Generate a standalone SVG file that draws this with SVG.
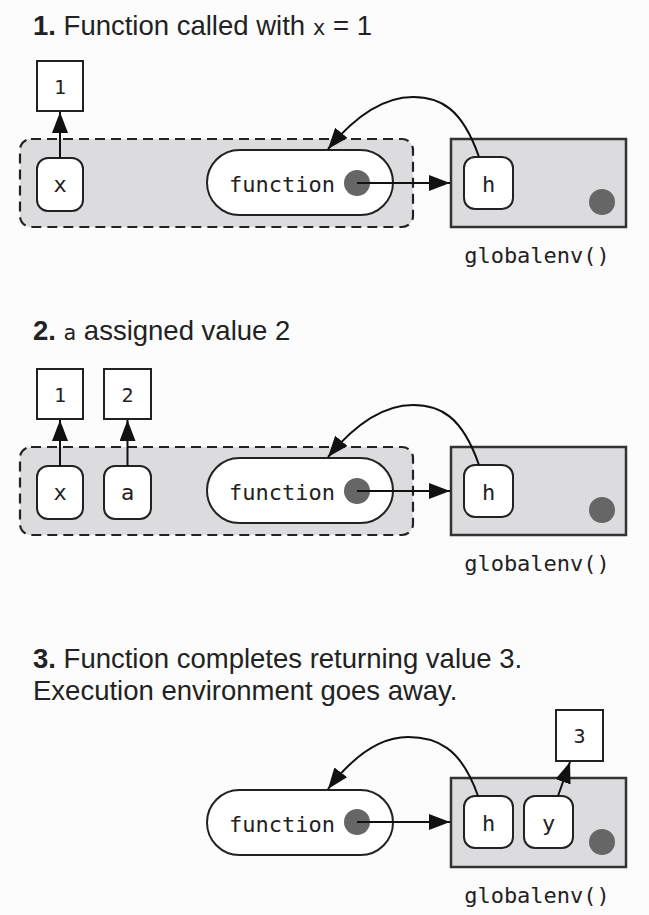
<svg xmlns="http://www.w3.org/2000/svg" width="649" height="915" viewBox="0 0 649 915">
<style>
.title{font-family:"Liberation Sans",Arial,sans-serif;font-size:27.5px;fill:#222}
.b{font-weight:bold}
.tm{font-family:"DejaVu Sans Mono",monospace;font-size:21px}
.lbl{font-family:"DejaVu Sans Mono",monospace;font-size:22px;fill:#222;text-anchor:middle}
.dig{font-family:"DejaVu Sans Mono",monospace;font-size:20px;fill:#222;text-anchor:middle}
.val{fill:#fff;stroke:#222;stroke-width:2}
.var{fill:#fff;stroke:#222;stroke-width:2}
.env{fill:#dcdcde;stroke:#222;stroke-width:2.2;stroke-dasharray:10 6}
.genv{fill:#dcdcde;stroke:#333;stroke-width:2.5}
.dot{fill:#666}
.ln{fill:none;stroke:#111;stroke-width:2;marker-end:url(#ah)}
</style>
<defs>
<marker id="ah" markerUnits="userSpaceOnUse" markerWidth="21" markerHeight="16" refX="21" refY="8" orient="auto" viewBox="0 0 21 16">
<path d="M0,0 L21,8 L0,16 z" fill="#111"/>
</marker>
</defs>
<rect width="649" height="915" fill="#fcfcfc"/>

<!-- Panel 1 -->
<text class="title" x="33" y="35"><tspan class="b">1.</tspan> Function called with <tspan class="tm">x</tspan> = 1</text>
<g id="p1-env"><rect class="env" x="20" y="139" width="393" height="88" rx="11"/></g>
<g id="p1-val1"><rect class="val" x="37" y="61" width="46" height="50"/><text class="dig" x="60" y="94">1</text></g>
<g id="p1-x"><rect class="var" x="37" y="158" width="46" height="53" rx="11"/><text class="lbl" x="60" y="192">x</text></g>
<g id="p1-function"><rect class="var" x="207" y="150" width="186" height="65" rx="32.5"/><text class="lbl" x="282" y="192">function</text><circle class="dot" cx="357" cy="183" r="13"/></g>
<g id="p1-globalenv"><rect class="genv" x="451" y="139" width="175" height="88"/><circle class="dot" cx="602" cy="202" r="13"/><text class="lbl" x="537" y="263">globalenv()</text></g>
<g id="p1-h"><rect class="var" x="464" y="157" width="49" height="52" rx="11"/><text class="lbl" x="488.5" y="192">h</text></g>

<!-- Panel 2 -->
<text class="title" x="33" y="340"><tspan class="b">2.</tspan> <tspan class="tm">a</tspan> assigned value 2</text>
<g id="p2-env"><rect class="env" x="20" y="447" width="393" height="88" rx="11"/></g>
<g id="p2-val1"><rect class="val" x="37" y="369" width="46" height="50"/><text class="dig" x="60" y="402">1</text></g>
<g id="p2-val2"><rect class="val" x="104" y="369" width="47" height="50"/><text class="dig" x="127.5" y="402">2</text></g>
<g id="p2-x"><rect class="var" x="37" y="466" width="46" height="53" rx="11"/><text class="lbl" x="60" y="500">x</text></g>
<g id="p2-a"><rect class="var" x="104" y="466" width="47" height="53" rx="11"/><text class="lbl" x="127.5" y="500">a</text></g>
<g id="p2-function"><rect class="var" x="207" y="458" width="186" height="65" rx="32.5"/><text class="lbl" x="282" y="500">function</text><circle class="dot" cx="357" cy="491" r="13"/></g>
<g id="p2-globalenv"><rect class="genv" x="451" y="447" width="175" height="88"/><circle class="dot" cx="602" cy="510" r="13"/><text class="lbl" x="537" y="571">globalenv()</text></g>
<g id="p2-h"><rect class="var" x="464" y="465" width="49" height="52" rx="11"/><text class="lbl" x="488.5" y="500">h</text></g>

<!-- Panel 3 -->
<text class="title" x="33" y="668"><tspan class="b">3.</tspan> Function completes returning value 3.</text>
<text class="title" x="33" y="700">Execution environment goes away.</text>
<g id="p3-function"><rect class="var" x="207" y="790" width="186" height="65" rx="32.5"/><text class="lbl" x="282" y="832">function</text><circle class="dot" cx="357" cy="822" r="13"/></g>
<g id="p3-globalenv"><rect class="genv" x="451" y="778" width="175" height="89"/><circle class="dot" cx="602" cy="842" r="13"/><text class="lbl" x="537" y="903">globalenv()</text></g>
<g id="p3-h"><rect class="var" x="464" y="796" width="49" height="52" rx="11"/><text class="lbl" x="488.5" y="831">h</text></g>
<g id="p3-y"><rect class="var" x="524" y="796" width="49" height="52" rx="11"/><text class="lbl" x="548.5" y="831">y</text></g>
<g id="p3-val3"><rect class="val" x="556" y="710" width="47" height="51"/><text class="dig" x="579.5" y="743">3</text></g>

<g id="connectors">
<path class="ln" d="M60,158 L60,112"/>
<path class="ln" d="M357,183 L450,183"/>
<path class="ln" d="M479,157 C462,108 440,97 413,97 C385,97 356,115 328,149"/>
<path class="ln" d="M60,466 L60,420"/>
<path class="ln" d="M127.5,466 L127.5,420"/>
<path class="ln" d="M357,491 L450,491"/>
<path class="ln" d="M479,465 C462,416 440,405 413,405 C385,405 356,423 328,457"/>
<path class="ln" d="M357,822 L450,822"/>
<path class="ln" d="M478,796 C461,747 436,737 408,737 C380,737 354,755 328,789"/>
<path class="ln" d="M558,796 L570,762"/>
</g>
</svg>
